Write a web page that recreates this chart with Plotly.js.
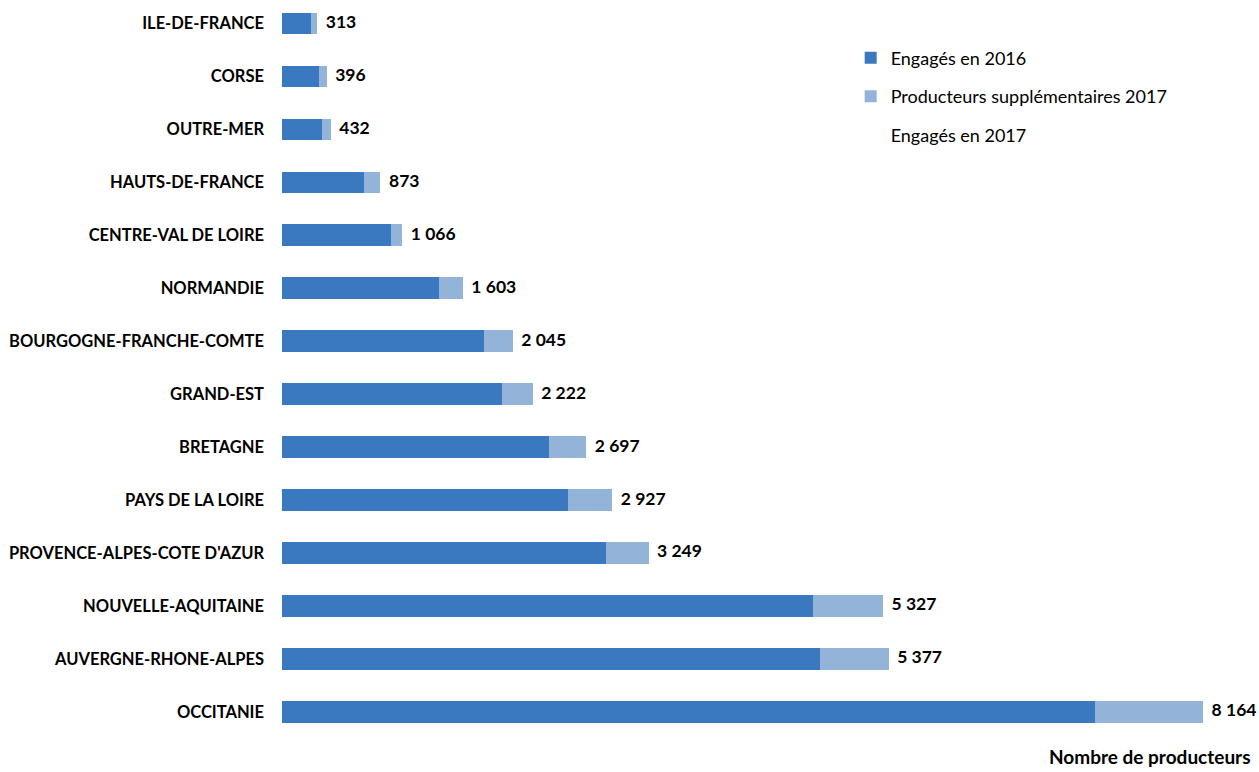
<!DOCTYPE html>
<html>
<head>
<meta charset="utf-8">
<script src="https://cdn.plot.ly/plotly-3.0.1.min.js"></script>
<style>html,body{margin:0;padding:0;background:#fff;}#chart{width:1259px;height:772px;}</style>
</head>
<body>
<div id="chart"></div>
<script>
var regions = ["ILE-DE-FRANCE","CORSE","OUTRE-MER","HAUTS-DE-FRANCE","CENTRE-VAL DE LOIRE","NORMANDIE","BOURGOGNE-FRANCHE-COMTE","GRAND-EST","BRETAGNE","PAYS DE LA LOIRE","PROVENCE-ALPES-COTE D'AZUR","NOUVELLE-AQUITAINE","AUVERGNE-RHONE-ALPES","OCCITANIE"];
var engages2016 = [261, 331, 352, 727, 964, 1389, 1791, 1954, 2364, 2539, 2876, 4702, 4769, 7210];
var engages2017 = [313, 396, 432, 873, 1066, 1603, 2045, 2222, 2697, 2927, 3249, 5327, 5377, 8164];
var supplementaires2017 = engages2017.map(function(t, i){ return t - engages2016[i]; });

var FONT = "Lato, 'Open Sans', sans-serif";

var traces = [
  {type:'bar', orientation:'h', name:'Engagés en 2016', y:regions, x:engages2016,
   marker:{color:'#3a78bf', line:{width:0}}, width:0.41, legendgroup:'a', hoverinfo:'x'},
  {type:'bar', orientation:'h', name:'Producteurs supplémentaires 2017', y:regions, x:supplementaires2017,
   marker:{color:'#93b4d8', line:{width:0}}, width:0.41, legendgroup:'b', hoverinfo:'x'},
  {type:'scatter', mode:'markers', name:'Engagés en 2017', y:regions, x:engages2017,
   marker:{color:'rgba(0,0,0,0)', size:1}, legendgroup:'c', hoverinfo:'skip'},
  {type:'scatter', mode:'text', name:'Engagés en 2017 (valeurs)', showlegend:false, y:regions, x:engages2017,
   texttemplate:'  %{x:,.0f}', textposition:'middle right', cliponaxis:false,
   textfont:{family:FONT, size:17.5, color:'#000', weight:'bold'}, legendgroup:'c', hoverinfo:'x'}
];

var layout = {
  width:1259, height:772,
  margin:{l:282, r:18, t:5, b:45},
  barmode:'stack',
  separators:', ',
  paper_bgcolor:'#fff', plot_bgcolor:'#fff',
  font:{family:FONT, size:15, color:'#000'},
  showlegend:true,
  legend:{x:0.593, xanchor:'left', y:0.952, yanchor:'top', tracegroupgap:12,
          font:{family:FONT, size:18, color:'#000'}, bgcolor:'rgba(0,0,0,0)'},
  xaxis:{range:[0,8500], showgrid:false, zeroline:false, showline:false, showticklabels:false, ticks:''},
  yaxis:{type:'category', categoryorder:'array', categoryarray:regions, range:[13.283,-0.349],
         showgrid:false, zeroline:false, showline:false, ticks:'', ticklabelstandoff:17,
         tickfont:{family:FONT, size:16.5, color:'#000', weight:'bold'}},
  annotations:[{xref:'paper', yref:'paper', x:1.012, y:-0.022, xanchor:'right', yanchor:'top',
    text:'<b>Nombre de producteurs</b>', showarrow:false, font:{family:FONT, size:19, color:'#000'}}]
};

Plotly.newPlot('chart', traces, layout, {displayModeBar:false, staticPlot:true});
</script>
</body>
</html>
